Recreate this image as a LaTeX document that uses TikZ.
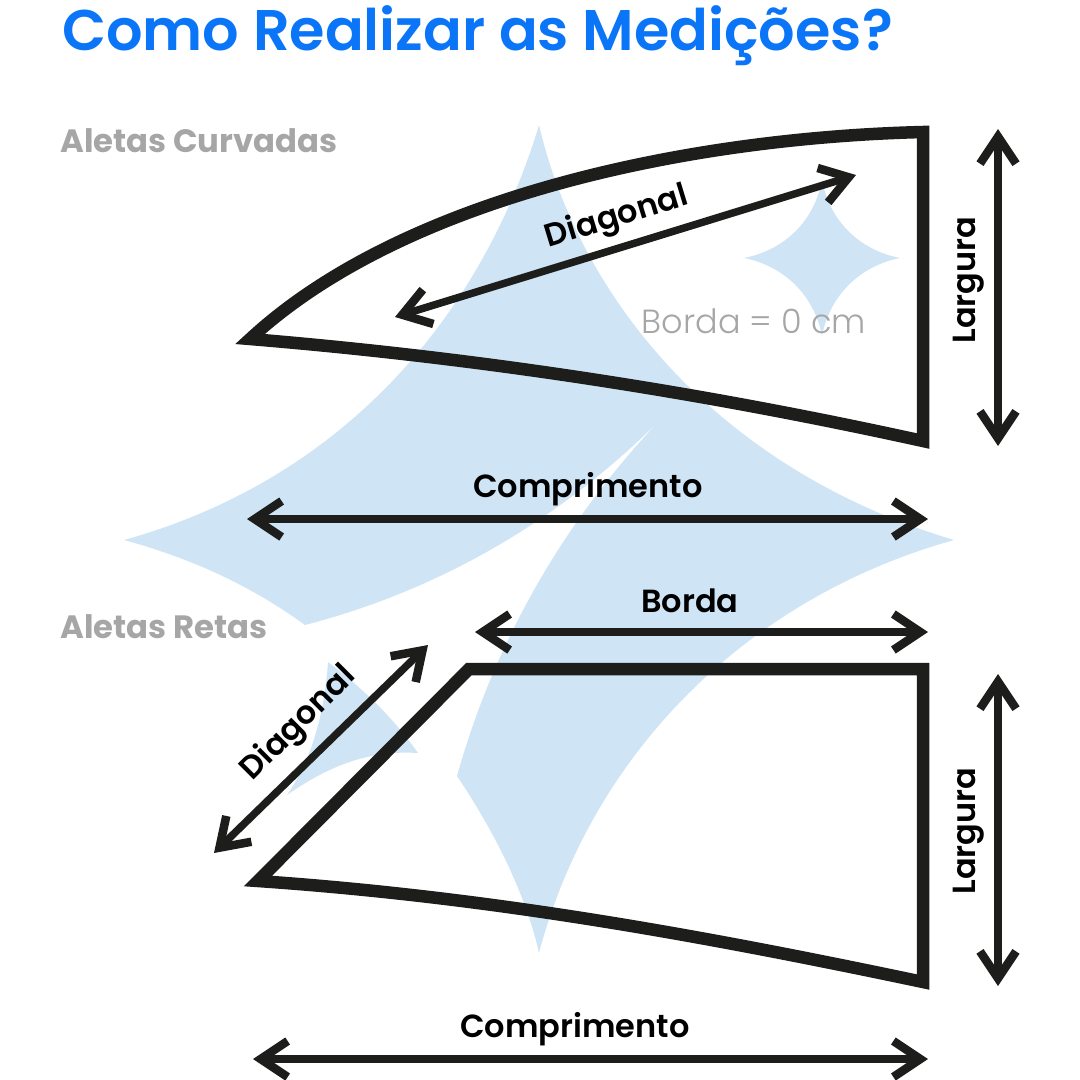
\documentclass[tikz,border=0pt]{standalone}
\usepackage{fontspec}
\usepackage{tikz}
\usetikzlibrary{arrows.meta}
\setmainfont{Poppins}
\newfontfamily\semifont{Poppins SemiBold}
\newfontfamily\lightfont{Poppins Light}
\definecolor{titleblue}{HTML}{0A75F7}
\definecolor{starblue}{HTML}{CFE5F6}
\definecolor{finblack}{HTML}{1D1D1B}
\definecolor{labelgrey}{HTML}{A6A6A6}
\tikzset{
	star/.style={fill=starblue,draw=none},
	fin/.style={draw=finblack,line width=12.5pt,miter limit=12},
	dimline/.style={draw=finblack,line width=7.5pt,{Straight Barb[length=27pt,width=36pt,line width=8.5pt]}-{Straight Barb[length=27pt,width=36pt,line width=8.5pt]}},
	dimlabel/.style={text=black,font=\fontsize{32}{32}\semifont,inner sep=0pt},
	sectionlabel/.style={text=labelgrey,font=\fontsize{32.3}{32.3}\selectfont\bfseries,anchor=west,inner sep=0pt}
}

\begin{document}
\begin{tikzpicture}[x=1pt,y=-1pt]
	\useasboundingbox (0,0) rectangle (1080,1080);

	% background stars
	\path[star] (539,125) .. controls (580,300) and (720,470) .. (954,540)
		.. controls (740,600) and (590,760) .. (539,953)
		.. controls (525,890) and (490,825) .. (457,776)
		.. controls (495,640) and (565,520) .. (660,420)
		.. controls (560,520) and (440,590) .. (305,625)
		.. controls (250,585) and (190,558) .. (124,540)
		.. controls (340,480) and (480,320) .. (539,125) -- cycle;
	\path[star] (328,662) .. controls (365,690) and (395,720) .. (418,753)
		.. controls (370,750) and (330,765) .. (287,795)
		.. controls (312,760) and (325,710) .. (328,662) -- cycle;
	\path[star] (822,180) .. controls (830,222) and (860,250) .. (900,258)
		.. controls (860,266) and (830,295) .. (822,336)
		.. controls (814,295) and (784,266) .. (744,258)
		.. controls (784,250) and (814,222) .. (822,180) -- cycle;

	% title and section names
	\node[anchor=west,inner sep=0pt,text=titleblue,font=\fontsize{57.3}{57.3}\semifont] (title) at (62,36) {Como Realizar as Medições?};
	\node[sectionlabel] (curved) at (60,141) {Aletas Curvadas};
	\node[sectionlabel] (straight) at (60,627) {Aletas Retas};

	% fins
	\draw[fin] (250,339) .. controls (400,200) and (680,138) .. (923,132)
		-- (923,441) .. controls (700,392) and (480,358) .. cycle;
	\draw[fin] (258,881) -- (469,669) -- (923,669) -- (923,982)
		.. controls (700,935) and (490,897) .. cycle;

	% dimension ends
	\coordinate (diagA) at (395,317);
	\coordinate (diagB) at (856,175);
	\coordinate (widthA) at (998,129);
	\coordinate (widthB) at (998,446);
	\coordinate (lenA) at (247,519);
	\coordinate (lenB) at (928,519);
	\coordinate (edgeA) at (475,632);
	\coordinate (edgeB) at (928,632);
	\coordinate (slantA) at (214,853);
	\coordinate (slantB) at (428,645);
	\coordinate (heightA) at (998,674);
	\coordinate (heightB) at (998,986);
	\coordinate (baseA) at (253,1059);
	\coordinate (baseB) at (928,1059);
	\foreach \a/\b in {diagA/diagB,widthA/widthB,lenA/lenB,edgeA/edgeB,slantA/slantB,heightA/heightB,baseA/baseB}
	{
		\draw[dimline] (\a)--(\b);
	}

	% dimension labels
	\node[dimlabel,rotate=17] (diagtext) at (617,218) {Diagonal};
	\node[dimlabel,rotate=90] (widthtext) at (969,280) {Largura};
	\node[dimlabel] (lentext) at (588,489) {Comprimento};
	\node[dimlabel] (edgetext) at (690,601) {Borda};
	\node[dimlabel,rotate=45] (slanttext) at (299,724) {Diagonal};
	\node[dimlabel,rotate=90] (heighttext) at (969,831) {Largura};
	\node[dimlabel] (basetext) at (575,1029) {Comprimento};
	\node[inner sep=0pt,text=labelgrey,font=\fontsize{33.5}{33.5}\lightfont] (zerotext) at (754,321) {Borda = 0 cm};
\end{tikzpicture}
\end{document}
